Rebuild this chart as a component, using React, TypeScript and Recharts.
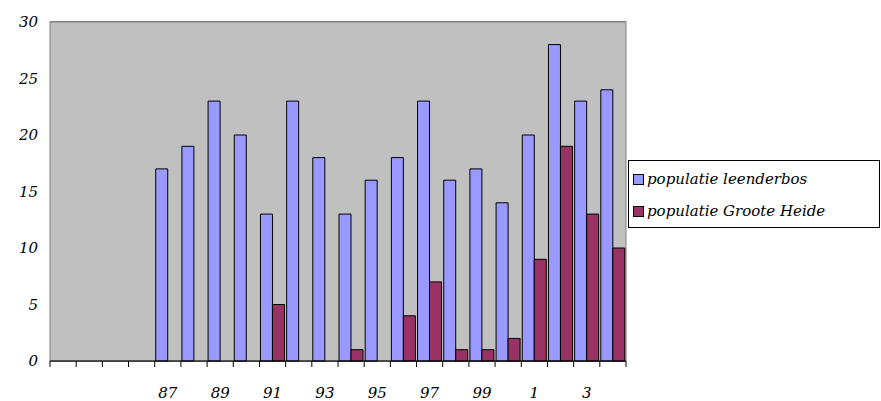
import React from 'react';
import { BarChart, Bar, XAxis, YAxis, CartesianGrid } from 'recharts';

const years = ['83', '84', '85', '86', '87', '88', '89', '90', '91', '92', '93', '94', '95', '96', '97', '98', '99', '0', '1', '2', '3', '4'];
const leenderbos = [null, null, null, null, 17, 19, 23, 20, 13, 23, 18, 13, 16, 18, 23, 16, 17, 14, 20, 28, 23, 24];
const grooteHeide = [null, null, null, null, 0, 0, 0, 0, 5, 0, 0, 1, 0, 4, 7, 1, 1, 2, 9, 19, 13, 10];
const yTicks = [0, 5, 10, 15, 20, 25, 30];
const hiddenLabels = ['83', '85'];

const BLUE = '#9999FF';
const PLUM = '#993366';
const font = 'DejaVu Serif, Liberation Serif, serif';

const PLOT_W = 576;
const BAND = PLOT_W / years.length;

const data = years.map((y, i) => ({ year: y, a: leenderbos[i], b: grooteHeide[i] }));

function YearTick(props: any) {
  const { x, y, payload, index } = props;
  const i = payload.index ?? index;
  const top = y - 8;
  const show = i % 2 === 0 && !hiddenLabels.includes(payload.value);
  return (
    <g>
      <line x1={x - BAND / 2} x2={x - BAND / 2} y1={top} y2={top + 6} stroke="#000" />
      {i === years.length - 1 && <line x1={x + BAND / 2} x2={x + BAND / 2} y1={top} y2={top + 6} stroke="#000" />}
      {show && (
        <text x={x} y={top + 37} textAnchor="middle" fontFamily={font} fontStyle="italic" fontSize={15} fill="#000">
          {payload.value}
        </text>
      )}
    </g>
  );
}

function LegendBox() {
  const items = [
    { c: BLUE, t: 'populatie leenderbos' },
    { c: PLUM, t: 'populatie Groote Heide' },
  ];
  return (
    <div style={{ border: '1px solid #000', background: '#fff', width: 252, height: 68, boxSizing: 'border-box', padding: '4px 0 0 4px', fontFamily: font, fontStyle: 'italic', fontSize: 15, color: '#000' }}>
      {items.map((it) => (
        <div key={it.t} style={{ display: 'flex', alignItems: 'center', height: 28, marginBottom: 4 }}>
          <span style={{ width: 9, height: 9, background: it.c, border: '1px solid #000', marginRight: 3 }} />
          {it.t}
        </div>
      ))}
    </div>
  );
}

export default function App() {
  return (
    <div style={{ position: 'absolute', left: 0, top: 0, width: 881, height: 401, background: '#fff' }}>
      <BarChart width={881} height={401} data={data} margin={{ top: 22, right: 255, left: 0, bottom: 0 }} barCategoryGap={1} barGap={0}>
        <rect x={50} y={22} width={PLOT_W} height={339} fill="#C0C0C0" stroke="#808080" />
        <CartesianGrid vertical={false} stroke="#000" ticks={yTicks} />
        <XAxis dataKey="year" height={40} axisLine={{ stroke: '#000' }} tickLine={false} interval={0} tick={<YearTick />} />
        <YAxis width={50} domain={[0, 30]} ticks={yTicks} axisLine={false} tickLine={false}
          tick={{ fontFamily: font, fontStyle: 'italic', fontSize: 15, fill: '#000', dx: -4 }} />
        <Bar dataKey="a" name="populatie leenderbos" fill={BLUE} stroke="#000" strokeWidth={1} isAnimationActive={false} />
        <Bar dataKey="b" name="populatie Groote Heide" fill={PLUM} stroke="#000" strokeWidth={1} isAnimationActive={false} />
      </BarChart>
      <div style={{ position: 'absolute', left: 628, top: 160 }}>
        <LegendBox />
      </div>
    </div>
  );
}
